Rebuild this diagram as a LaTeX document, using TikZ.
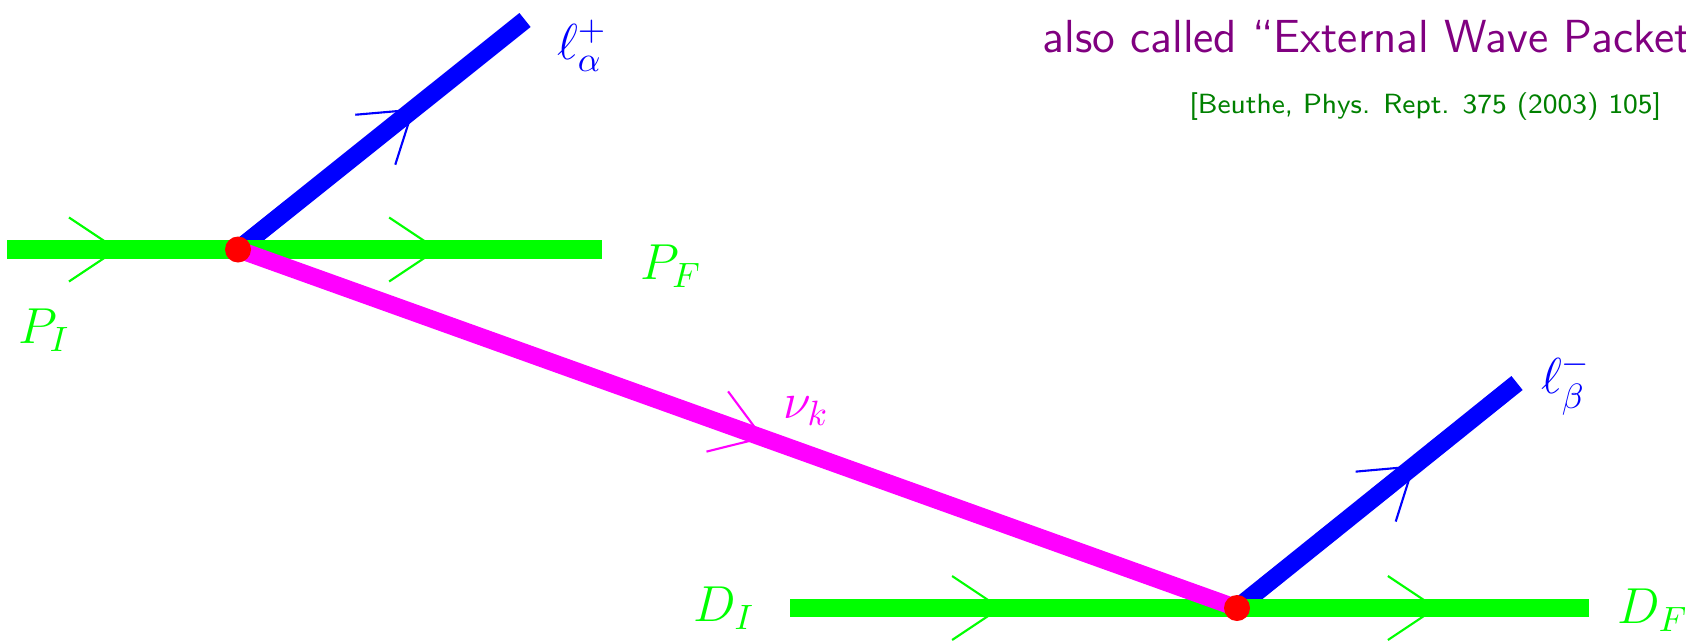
\documentclass[tikz,border=0pt]{standalone}
\usepackage{amsmath,amssymb}
\usepackage{tikz}
\usetikzlibrary{decorations.markings}
\definecolor{hadgreen}{rgb}{0,1,0}
\definecolor{numagenta}{rgb}{1,0,1}
\definecolor{notepurple}{rgb}{0.5,0,0.5}
\definecolor{citegreen}{rgb}{0,0.5,0}
\tikzset{directed/.style={postaction={decorate,decoration={markings,mark=at position #1 with {\draw[line width=.6pt] (-.48,.32)--(0,0)--(-.48,-.32);}}}},
    hadron/.style={hadgreen,line width=5.4pt},
    lepton/.style={blue,line width=5.1pt},
    neutrino/.style={numagenta,line width=4.9pt},
    vertexdot/.style={circle,fill=red,inner sep=0pt,minimum size=.26cm},
    biglabel/.style={font=\fontsize{14.4}{17}\selectfont}}

\begin{document}
\begin{tikzpicture}
\useasboundingbox (0,0) rectangle (16.86,6.40);
\coordinate (Pin) at (0.075,3.905);
\coordinate (Pv) at (2.38,3.905);
\coordinate (Pout) at (6.02,3.905);
\coordinate (La) at (5.25,6.20);
\coordinate (Din) at (7.90,0.32);
\coordinate (Dv) at (12.37,0.32);
\coordinate (Dout) at (15.89,0.32);
\coordinate (Lb) at (15.17,2.57);
\draw[lepton,directed=.61] (Pv)--(La);
\draw[lepton,directed=.63] (Dv)--(Lb);
\draw[hadron,directed=.475] (Pin)--(Pv);
\draw[hadron,directed=.547] (Pv)--(Pout);
\draw[hadron,directed=.47] (Din)--(Dv);
\draw[hadron,directed=.565] (Dv)--(Dout);
\draw[neutrino,directed=.525] (Pv)--(Dv);
\node[vertexdot] (PvDot) at (Pv) {};
\node[vertexdot] (DvDot) at (Dv) {};
\node[biglabel,blue] (LaLab) at (5.82,5.94) {$\ell_\alpha^+$};
\node[biglabel,blue] (LbLab) at (15.66,2.56) {$\ell_\beta^-$};
\node[biglabel,hadgreen] (PfLab) at (6.71,3.74) {$P_F$};
\node[biglabel,hadgreen] (PiLab) at (0.44,3.10) {$P_I$};
\node[biglabel,hadgreen] (DiLab) at (7.24,0.32) {$D_I$};
\node[biglabel,hadgreen] (DfLab) at (16.53,0.30) {$D_F$};
\node[biglabel,numagenta] (NuLab) at (8.06,2.29) {$\nu_k$};
\node[anchor=base west,inner sep=0pt,notepurple,font=\sffamily\fontsize{13.2}{15}\selectfont] (Note) at (10.42,5.88) {also called ``External Wave Packet''};
\node[anchor=base east,inner sep=0pt,citegreen,font=\sffamily\fontsize{7.9}{10}\selectfont] (Cite) at (16.62,5.27) {[Beuthe, Phys. Rept. 375 (2003) 105]};
\end{tikzpicture}
\end{document}
